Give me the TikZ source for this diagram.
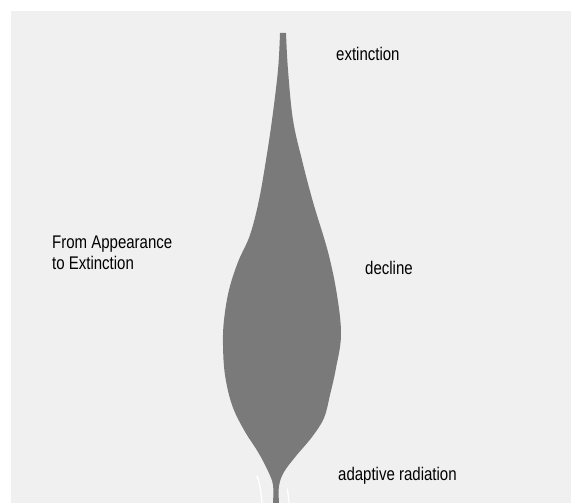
\documentclass[tikz,border=0pt]{standalone}
\usepackage{fontspec}
\newfontfamily\labfont[FakeStretch=0.82]{Liberation Sans}
\definecolor{bggray}{HTML}{F0F0F0}
\definecolor{lineagegray}{HTML}{7A7A7A}
\begin{document}
\begin{tikzpicture}[x=1pt,y=-1pt,
  lab/.style={anchor=base west,inner sep=0pt,font=\labfont\fontsize{18.3}{22}\selectfont,text=black},
  streak/.style={draw=white,line width=1.3pt,line cap=round}]
\useasboundingbox (0,0) rectangle (571,503);
\fill[white] (0,0) rectangle (571,503);
\fill[bggray] (11,11) rectangle (571,503);
% spindle-shaped lineage
\fill[lineagegray]
  plot[smooth,tension=0.6] coordinates {(280,33) (278,70) (272,120) (266,160) (259,200) (250,235) (238,262) (229,290) (224,320) (223,345) (225,375) (232,405) (244,430) (258,452) (268,471) (273,485) (273,503)}
  -- plot[smooth,tension=0.6] coordinates {(279,503) (279,486) (284,472) (296,456) (312,437) (324,418) (330,395) (336,368) (341,335) (337,295) (328,252) (313,202) (302,160) (293,120) (288,70) (286,33)}
  -- cycle;
% white streaks near base
\draw[streak] (257,476) .. controls (260,485) .. (262,503);
\draw[streak] (287.5,489) .. controls (288.5,496) .. (289,503);
% labels
\node[lab] (ext) at (336,61) {extinction};
\node[lab] (dec) at (365,274) {decline};
\node[lab] (rad) at (338,480.5) {adaptive radiation};
\node[lab] (t1) at (52,248) {From Appearance};
\node[lab] (t2) at (52,269.5) {to Extinction};
\end{tikzpicture}
\end{document}
